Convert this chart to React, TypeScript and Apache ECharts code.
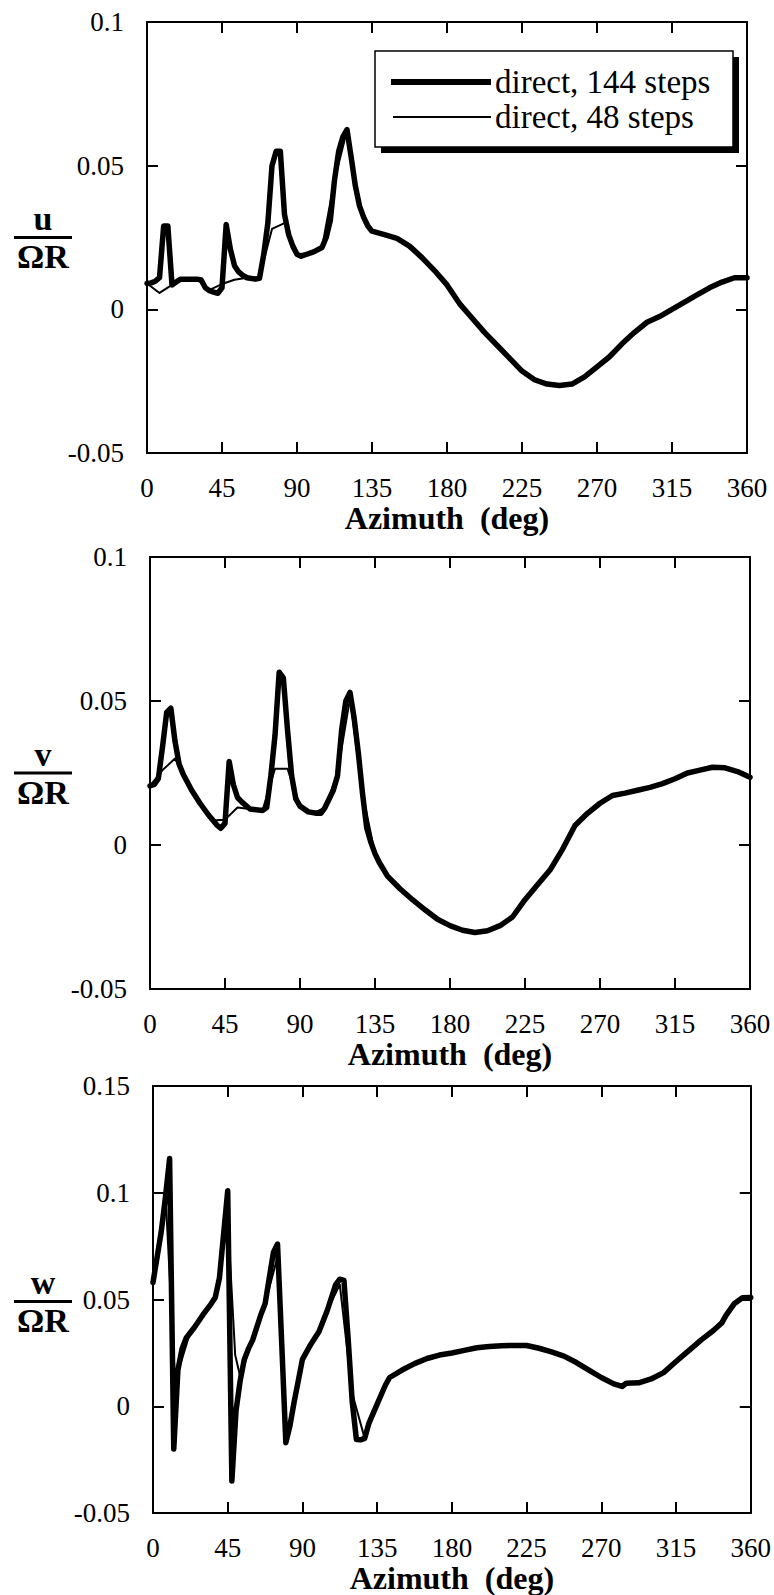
import React, { useEffect, useRef } from "react";
import * as echarts from "echarts";

// ---------- data ----------
const SERIES_NAMES = ["direct, 144 steps", "direct, 48 steps"];
const Y_NUMERATORS = ["u", "v", "w"];
const Y_DENOMINATOR = "ΩR";
const X_TITLE = "Azimuth  (deg)";
const X_MIN = 0;
const X_MAX = 360;
const X_STEP = 45;
const Y_MIN = [-0.05, -0.05, -0.05];
const Y_MAX = [0.1, 0.1, 0.15];
const Y_STEP = 0.05;

// u / ΩR
const U_144: [number, number][] = [
  [0, 0.009], [2.5, 0.0092], [5, 0.0098], [7.5, 0.011], [10, 0.029], [12.5, 0.029], [15, 0.0085],
  [17.5, 0.0095], [20, 0.0105], [25, 0.0105], [30, 0.0105], [32.5, 0.0102], [35, 0.0075],
  [37.5, 0.0065], [40, 0.006], [42.5, 0.0056], [45, 0.0075], [47.5, 0.0295], [50, 0.021],
  [52.5, 0.0152], [55, 0.013], [57.5, 0.0118], [60, 0.011], [65, 0.0105], [67.5, 0.0108],
  [70, 0.019], [72.5, 0.03], [75, 0.05], [77.5, 0.055], [80, 0.055], [82.5, 0.033], [85, 0.026],
  [87.5, 0.022], [90, 0.0192], [92.5, 0.0185], [95, 0.019], [100, 0.02], [105, 0.0215],
  [107.5, 0.025], [110, 0.031], [112.5, 0.045], [115, 0.055], [117.5, 0.06], [120, 0.0625],
  [122.5, 0.053], [125, 0.043], [127.5, 0.036], [130, 0.032], [132.5, 0.029], [135, 0.0272],
  [142.5, 0.026], [150, 0.0247], [157.5, 0.022], [165, 0.018], [172.5, 0.0135], [180, 0.0085],
  [187.5, 0.002], [195, -0.003], [202.5, -0.008], [210, -0.0125], [217.5, -0.017], [225, -0.0215],
  [232.5, -0.0245], [240, -0.026], [247.5, -0.0265], [255, -0.026], [262.5, -0.0235], [270, -0.02],
  [277.5, -0.0165], [285, -0.012], [292.5, -0.008], [300, -0.0045], [307.5, -0.0025], [315, 0],
  [322.5, 0.0025], [330, 0.005], [337.5, 0.0075], [345, 0.0095], [352.5, 0.011], [360, 0.011],
];
const U_48: [number, number][] = [
  [0, 0.009], [7.5, 0.0057], [15, 0.0085], [22.5, 0.0105], [30, 0.0105], [37.5, 0.0068],
  [45, 0.0088], [52.5, 0.0103], [60, 0.011], [67.5, 0.0112], [75, 0.028], [82.5, 0.03],
  [90, 0.0192], [97.5, 0.0195], [105, 0.0215], [112.5, 0.045], [120, 0.0622], [127.5, 0.036],
  [135, 0.0272], [142.5, 0.026], [150, 0.0247], [157.5, 0.022], [165, 0.018], [172.5, 0.0135],
  [180, 0.0085], [187.5, 0.002], [195, -0.003], [202.5, -0.008], [210, -0.0125], [217.5, -0.017],
  [225, -0.0215], [232.5, -0.0245], [240, -0.026], [247.5, -0.0265], [255, -0.026],
  [262.5, -0.0235], [270, -0.02], [277.5, -0.0165], [285, -0.012], [292.5, -0.008],
  [300, -0.0045], [307.5, -0.0025], [315, 0], [322.5, 0.0025], [330, 0.005], [337.5, 0.0075],
  [345, 0.0095], [352.5, 0.011], [360, 0.011],
];

// v / ΩR
const V_144: [number, number][] = [
  [0, 0.0205], [2.5, 0.021], [5, 0.023], [7.5, 0.034], [10, 0.046], [12.5, 0.0475], [15, 0.036],
  [17.5, 0.028], [20, 0.0245], [25, 0.019], [30, 0.0145], [35, 0.0105], [40, 0.007],
  [42.5, 0.0058], [45, 0.0075], [47.5, 0.029], [50, 0.021], [52.5, 0.0165], [55, 0.015],
  [60, 0.0125], [67.5, 0.012], [70, 0.013], [72.5, 0.024], [75, 0.038], [77.5, 0.06], [80, 0.058],
  [82.5, 0.04], [85, 0.024], [87.5, 0.016], [90, 0.0135], [95, 0.0115], [100, 0.011],
  [102.5, 0.011], [105, 0.013], [110, 0.019], [112.5, 0.024], [115, 0.04], [117.5, 0.05],
  [120, 0.053], [122.5, 0.044], [125, 0.032], [127.5, 0.018], [130, 0.006], [132.5, 0.001],
  [135, -0.003], [137.5, -0.006], [142.5, -0.0108], [150, -0.0152], [157.5, -0.019],
  [165, -0.0225], [172.5, -0.0258], [180, -0.028], [187.5, -0.0296], [195, -0.0304],
  [202.5, -0.0298], [210, -0.028], [217.5, -0.025], [225, -0.019], [232.5, -0.0138],
  [240, -0.0087], [247.5, -0.0015], [255, 0.0068], [262.5, 0.011], [270, 0.0145],
  [277.5, 0.0172], [285, 0.018], [292.5, 0.019], [300, 0.02], [307.5, 0.0213], [315, 0.023],
  [322.5, 0.025], [330, 0.026], [337.5, 0.027], [345, 0.0268], [352.5, 0.0255], [360, 0.0235],
];
const V_48: [number, number][] = [
  [0, 0.0205], [7.5, 0.026], [15, 0.03], [22.5, 0.021], [30, 0.0145], [37.5, 0.0085],
  [45, 0.0088], [52.5, 0.013], [60, 0.0125], [67.5, 0.012], [75, 0.0265], [82.5, 0.0265],
  [90, 0.0135], [97.5, 0.011], [105, 0.013], [112.5, 0.025], [120, 0.051], [127.5, 0.018],
  [135, -0.003], [142.5, -0.0108], [150, -0.0152], [157.5, -0.019], [165, -0.0225],
  [172.5, -0.0258], [180, -0.028], [187.5, -0.0296], [195, -0.0304], [202.5, -0.0298],
  [210, -0.028], [217.5, -0.025], [225, -0.019], [232.5, -0.0138], [240, -0.0087],
  [247.5, -0.0015], [255, 0.0068], [262.5, 0.011], [270, 0.0145], [277.5, 0.0172], [285, 0.018],
  [292.5, 0.019], [300, 0.02], [307.5, 0.0213], [315, 0.023], [322.5, 0.025], [330, 0.026],
  [337.5, 0.027], [345, 0.0268], [352.5, 0.0255], [360, 0.0235],
];

// w / ΩR
const W_144: [number, number][] = [
  [0, 0.058], [2.5, 0.07], [5, 0.082], [7.5, 0.098], [10, 0.116], [12.5, -0.02], [15, 0.017],
  [17.5, 0.027], [20, 0.032], [25, 0.037], [30, 0.0428], [35, 0.048], [37.5, 0.051], [40, 0.06],
  [42.5, 0.0805], [45, 0.101], [47.5, -0.035], [50, -0.002], [52.5, 0.012], [55, 0.022],
  [57.5, 0.027], [60, 0.031], [65, 0.043], [67.5, 0.048], [70, 0.06], [72.5, 0.072], [75, 0.076],
  [77.5, 0.03], [80, -0.017], [82.5, -0.009], [85, 0.002], [87.5, 0.012], [90, 0.022], [95, 0.029],
  [100, 0.035], [105, 0.045], [110, 0.057], [112.5, 0.0595], [115, 0.059], [117.5, 0.032],
  [120, 0.002], [122.5, -0.0155], [125, -0.0157], [127.5, -0.015], [130, -0.008], [135, 0.001],
  [140, 0.01], [142.5, 0.0135], [150, 0.017], [157.5, 0.02], [165, 0.0224], [172.5, 0.024],
  [180, 0.025], [187.5, 0.0262], [195, 0.0274], [202.5, 0.028], [210, 0.0284], [217.5, 0.0285],
  [225, 0.0285], [232.5, 0.0272], [240, 0.0255], [247.5, 0.0235], [255, 0.0205], [262.5, 0.017],
  [270, 0.0135], [277.5, 0.0105], [282.5, 0.0093], [285, 0.0108], [292.5, 0.011], [300, 0.0128],
  [307.5, 0.0158], [315, 0.021], [322.5, 0.026], [330, 0.031], [337.5, 0.0355], [342.5, 0.039],
  [345, 0.0425], [350, 0.048], [355, 0.0508], [360, 0.051],
];
const W_48: [number, number][] = [
  [0, 0.058], [7.5, 0.1], [13.5, 0.008], [15, 0.016], [22.5, 0.035], [30, 0.0428], [37.5, 0.051],
  [45, 0.088], [49.5, 0.024], [52.5, 0.014], [60, 0.031], [67.5, 0.048], [75, 0.07], [80, -0.015],
  [82.5, -0.009], [90, 0.022], [97.5, 0.032], [105, 0.045], [112.5, 0.057], [120, 0.006],
  [127.5, -0.015], [135, 0.001], [142.5, 0.0135], [150, 0.017], [157.5, 0.02], [165, 0.0224],
  [172.5, 0.024], [180, 0.025], [187.5, 0.0262], [195, 0.0274], [202.5, 0.028], [210, 0.0284],
  [217.5, 0.0285], [225, 0.0285], [232.5, 0.0272], [240, 0.0255], [247.5, 0.0235], [255, 0.0205],
  [262.5, 0.017], [270, 0.0135], [277.5, 0.0105], [285, 0.0105], [292.5, 0.011], [300, 0.0128],
  [307.5, 0.0158], [315, 0.021], [322.5, 0.026], [330, 0.031], [337.5, 0.0355], [345, 0.0425],
  [352.5, 0.0495], [360, 0.051],
];

const PANEL_DATA = [
  [U_144, U_48],
  [V_144, V_48],
  [W_144, W_48],
];

// ---------- layout / style ----------
const FONT = '"Liberation Serif", "Times New Roman", Times, serif';
const GRIDS = [
  { left: 147, top: 22, width: 600, height: 431 },
  { left: 150, top: 557, width: 600, height: 432 },
  { left: 153, top: 1086, width: 599, height: 431 },
];

function fmt(v: number) {
  return String(Number(v.toFixed(2)));
}

export default function App() {
  const ref = useRef<HTMLDivElement>(null);

  useEffect(() => {
    document.body.style.margin = "0";
    if (!ref.current) return;
    const chart = echarts.init(ref.current, null, { renderer: "svg" });

    const axisLine = { show: true, onZero: false, lineStyle: { color: "#000", width: 2 } };
    const axisTick = { show: true, inside: true, length: 11, lineStyle: { color: "#000", width: 2 } };

    const xAxis: any[] = [];
    const yAxis: any[] = [];
    const series: any[] = [];
    const graphic: any[] = [];

    GRIDS.forEach((g, i) => {
      xAxis.push({
        type: "value", gridIndex: i, position: "bottom", min: X_MIN, max: X_MAX, interval: X_STEP,
        axisLine, axisTick, splitLine: { show: false },
        axisLabel: { show: true, margin: 21, fontSize: 27, fontFamily: FONT, color: "#000" },
        name: X_TITLE, nameLocation: "middle", nameGap: 47,
        nameTextStyle: { fontSize: 32, fontWeight: "bold", fontFamily: FONT, color: "#000" },
      });
      xAxis.push({
        type: "value", gridIndex: i, position: "top", min: X_MIN, max: X_MAX, interval: X_STEP,
        axisLine, axisTick, splitLine: { show: false }, axisLabel: { show: false },
      });
      yAxis.push({
        type: "value", gridIndex: i, position: "left", min: Y_MIN[i], max: Y_MAX[i], interval: Y_STEP,
        axisLine, axisTick, splitLine: { show: false },
        axisLabel: { show: true, margin: 23, fontSize: 27, fontFamily: FONT, color: "#000", formatter: fmt },
      });
      yAxis.push({
        type: "value", gridIndex: i, position: "right", min: Y_MIN[i], max: Y_MAX[i], interval: Y_STEP,
        axisLine, axisTick, splitLine: { show: false }, axisLabel: { show: false },
      });

      PANEL_DATA[i].forEach((d, k) => {
        series.push({
          type: "line",
          name: SERIES_NAMES[k],
          xAxisIndex: 2 * i,
          yAxisIndex: 2 * i,
          data: d,
          symbol: "none",
          smooth: false,
          z: k === 0 ? 2 : 3,
          lineStyle: { color: "#000", width: k === 0 ? 5.5 : 2, join: "round", cap: "round" },
        });
      });

      const c = g.top + g.height / 2;
      graphic.push(
        {
          type: "text", x: 43, y: c - 19, z: 100,
          style: {
            text: Y_NUMERATORS[i], fontSize: 34, lineHeight: 30, fontWeight: "bold", fontFamily: FONT, fill: "#000",
            align: "center", verticalAlign: "middle", textAlign: "center", textVerticalAlign: "middle",
          },
        },
        {
          type: "line", z: 100,
          shape: { x1: 14, y1: c, x2: 72, y2: c },
          style: { stroke: "#000", lineWidth: 3 },
        },
        {
          type: "text", x: 43, y: c + 19, z: 100,
          style: {
            text: Y_DENOMINATOR, fontSize: 34, lineHeight: 30, fontWeight: "bold", fontFamily: FONT, fill: "#000",
            align: "center", verticalAlign: "middle", textAlign: "center", textVerticalAlign: "middle",
          },
        }
      );
    });

    // legend box (panel 1)
    graphic.push(
      { type: "rect", z: 100, shape: { x: 381, y: 57, width: 358, height: 96 }, style: { fill: "#000" } },
      {
        type: "rect", z: 101, shape: { x: 375, y: 51, width: 358, height: 96 },
        style: { fill: "#fff", stroke: "#000", lineWidth: 1.5 },
      },
      { type: "line", z: 102, shape: { x1: 391, y1: 82, x2: 491, y2: 82 }, style: { stroke: "#000", lineWidth: 6 } },
      { type: "line", z: 102, shape: { x1: 393, y1: 117, x2: 491, y2: 117 }, style: { stroke: "#000", lineWidth: 2 } },
      {
        type: "text", x: 495, y: 82, z: 102,
        style: {
          text: SERIES_NAMES[0], fontSize: 33, fontFamily: FONT, fill: "#000",
          align: "left", verticalAlign: "middle", textAlign: "left", textVerticalAlign: "middle",
        },
      },
      {
        type: "text", x: 495, y: 117, z: 102,
        style: {
          text: SERIES_NAMES[1], fontSize: 33, fontFamily: FONT, fill: "#000",
          align: "left", verticalAlign: "middle", textAlign: "left", textVerticalAlign: "middle",
        },
      }
    );

    chart.setOption({
      animation: false,
      backgroundColor: "#fff",
      grid: GRIDS.map((g) => ({ ...g, containLabel: false })),
      xAxis,
      yAxis,
      series,
      graphic,
    });

    return () => chart.dispose();
  }, []);

  return <div ref={ref} style={{ width: 774, height: 1595, background: "#fff" }} />;
}
